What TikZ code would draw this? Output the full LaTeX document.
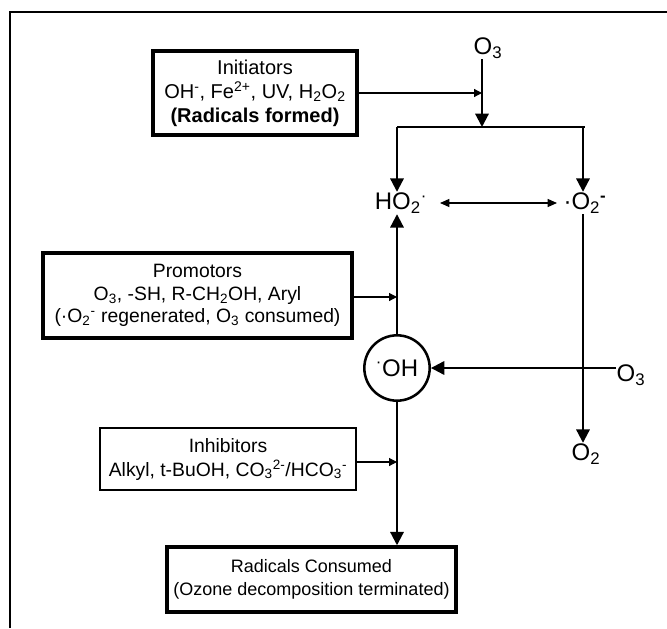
\documentclass[tikz,border=0pt]{standalone}
\usepackage{fontspec}
\setmainfont{Liberation Sans}
\usetikzlibrary{positioning, arrows.meta}

\begin{document}
\begin{tikzpicture}[x=0.75pt, y=-0.75pt]
    \tikzset{box/.style={rectangle,draw=black,line width=2.6pt,fill=white,align=center,inner sep=1pt,font=\fontsize{15}{18}\selectfont}}
    \tikzset{species/.style={inner sep=0.5pt,font=\fontsize{18}{20}\selectfont}}
    \tikzset{flow/.style={line width=1.6pt,-{Triangle[length=10pt,width=10pt]}}}
    \tikzset{feed/.style={line width=0.9pt,-{Triangle[length=6pt,width=6pt]}}}
    \useasboundingbox (0,0) rectangle (667,628);
    % frame
    \draw[line width=0.9pt] (10,628) -- (10,12) -- (667,12);

    % boxes
    \node[box, minimum width=153pt, minimum height=63pt] at (255,93) (init)
        {Initiators\\OH\textsuperscript{-}, Fe\textsuperscript{2+}, UV, H\textsubscript{2}O\textsubscript{2}\\\textbf{(Radicals formed)}};
    \node[box, minimum width=231.75pt, minimum height=63.75pt, font=\fontsize{14.5}{17}\selectfont] at (197.5,295.5) (promo)
        {Promotors\\O\textsubscript{3}, -SH, R-CH\textsubscript{2}OH, Aryl\\(\textperiodcentered O\textsubscript{2}\textsuperscript{-} regenerated, O\textsubscript{3} consumed)};
    \node[box, line width=1.9pt, minimum width=192pt, minimum height=46.5pt, font=\fontsize{14.5}{18}\selectfont] at (228,459) (inhib)
        {Inhibitors\\Alkyl, t-BuOH, CO\textsubscript{3}\textsuperscript{2-}/HCO\textsubscript{3}\textsuperscript{-}};
    \node[box, minimum width=216.75pt, minimum height=48.75pt, font=\fontsize{13.5}{17}\selectfont] at (311.5,579.5) (consumed)
        {Radicals Consumed\\(Ozone decomposition terminated)};

    % species
    \node[species] at (488,48) (o3top) {O\textsubscript{3}};
    \node[species] at (401,203) (ho2) {HO\textsubscript{2}\textsuperscript{\textperiodcentered}};
    \node[species] at (585,203) (o2m) {\textperiodcentered O\textsubscript{2}\textsuperscript{\textbf{-}}};
    \node[species, circle, draw, line width=1.9pt, minimum size=49pt, inner sep=0pt] at (397,368) (oh) {\textsuperscript{\textperiodcentered}OH};
    \node[species] at (631,375) (o3right) {O\textsubscript{3}};
    \node[species] at (586,454) (o2) {O\textsubscript{2}};
    \coordinate (split) at (482,127);

    % connectors
    \draw[flow] (o3top.south -| split) -- (split);
    \draw[line width=1.6pt] (split -| oh) -- (split -| o2m);
    \draw[flow] (split -| oh) -- (ho2.north -| oh);
    \draw[flow] (split -| 583,0) -- (o2m.north -| 583,0);
    \draw[line width=0.9pt, {Triangle[length=7pt,width=6pt]}-{Triangle[length=7pt,width=6pt]}] (440,203) -- (557,203);
    \draw[flow] (oh) -- (ho2.south -| oh);
    \draw[flow] (o2m.south -| 583,0) -- (o2.north -| 583,0);
    \draw[flow] (o3right.west |- oh) -- (oh);
    \draw[flow] (oh) -- (oh |- consumed.north);
    \draw[feed] (init.east |- split) ++(0,-34) coordinate (initend) -- (initend -| split);
    \draw[feed] (promo.east |- 0,297) -- (397,297);
    \draw[feed] (inhib.east |- 0,462) -- (397,462);
\end{tikzpicture}
\end{document}
